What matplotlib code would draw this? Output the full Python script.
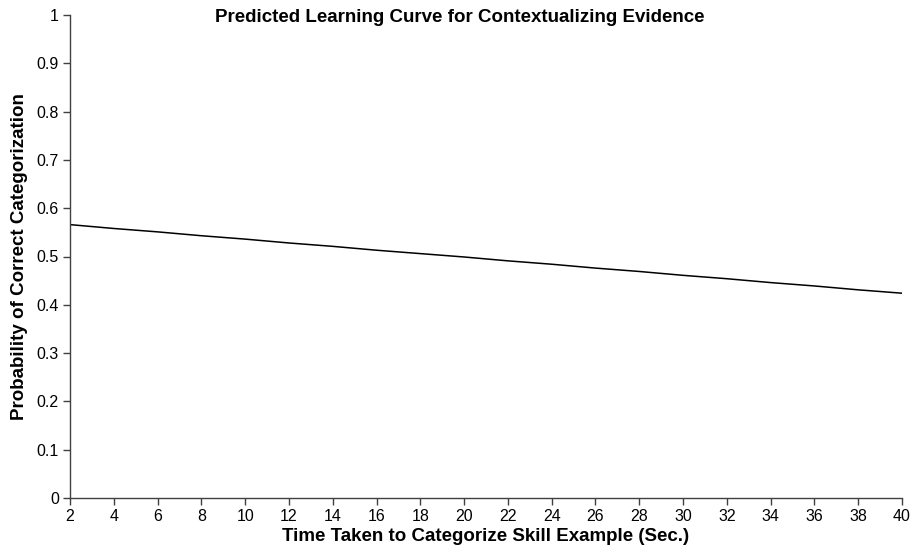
import matplotlib
matplotlib.use("Agg")
import matplotlib.pyplot as plt

times = [2, 4, 6, 8, 10, 12, 14, 16, 18, 20, 22, 24, 26, 28, 30, 32, 34, 36, 38, 40]
prob = [0.566, 0.558, 0.551, 0.543, 0.536, 0.528, 0.521, 0.513, 0.506, 0.499,
        0.491, 0.484, 0.476, 0.469, 0.461, 0.454, 0.446, 0.439, 0.431, 0.424]
xticks = list(range(2, 41, 2))
yticks = [0, 0.1, 0.2, 0.3, 0.4, 0.5, 0.6, 0.7, 0.8, 0.9, 1]
ytick_labels = ["0", "0.1", "0.2", "0.3", "0.4", "0.5", "0.6", "0.7", "0.8", "0.9", "1"]

plt.rcParams['font.family'] = ['Liberation Sans', 'DejaVu Sans']

fig = plt.figure(figsize=(9.15, 5.52), dpi=100)
ax = fig.add_axes([70/915, 1-498/552, (902-70)/915, (498-15)/552])

ax.plot(times, prob, color='black', linewidth=1.1)
ax.set_xlim(2, 40)
ax.set_ylim(0, 1)
ax.set_xticks(xticks)
ax.set_xticklabels([str(t) for t in xticks])
ax.set_yticks(yticks)
ax.set_yticklabels(ytick_labels)

for s in ['top', 'right']:
    ax.spines[s].set_visible(False)
for s in ['left', 'bottom']:
    ax.spines[s].set_color('#404040')
    ax.spines[s].set_linewidth(1.0)
ax.tick_params(axis='both', direction='out', length=5, width=1, color='#404040',
               labelsize=11.5, pad=3)

ax.set_xlabel("Time Taken to Categorize Skill Example (Sec.)", fontsize=13.5,
              fontweight='bold', labelpad=3)
ax.set_ylabel("Probability of Correct Categorization", fontsize=13.5,
              fontweight='bold', labelpad=6)
fig.text(460/915, 1-18/552, "Predicted Learning Curve for Contextualizing Evidence",
         ha='center', va='center', fontsize=13.5, fontweight='bold')

fig.savefig("out.png", dpi=100)
